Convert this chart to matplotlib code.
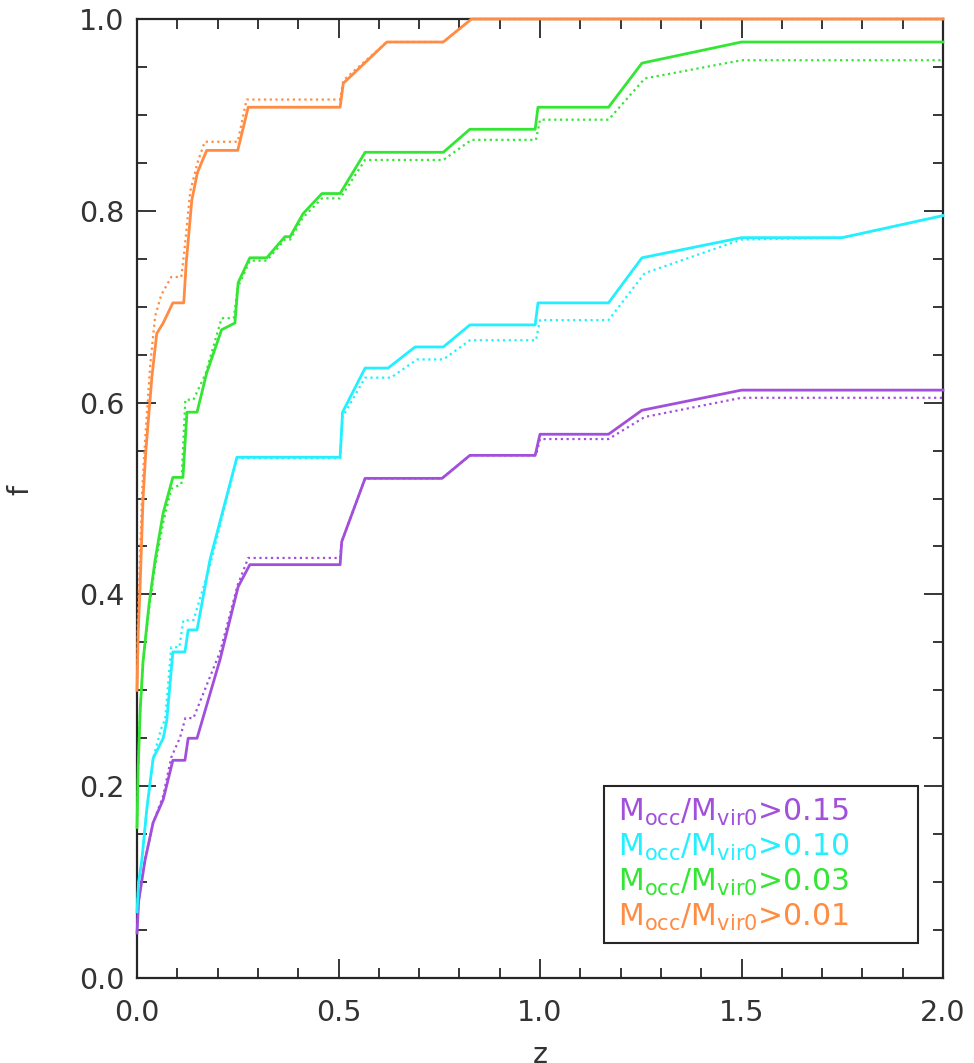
import numpy as np
import matplotlib
matplotlib.use('Agg')
import matplotlib.pyplot as plt
from matplotlib.ticker import MultipleLocator
from matplotlib.patches import Rectangle

plt.rcParams['font.family'] = ['DejaVu Sans']
plt.rcParams['mathtext.fontset'] = 'dejavusans'

# M_acc/M_vir0 > 0.01
z_o = [0, 0.003, 0.007, 0.015, 0.022, 0.037, 0.049, 0.065, 0.089, 0.116, 0.122, 0.136, 0.150, 0.173,
       0.25, 0.276, 0.504, 0.512, 0.62, 0.76, 0.83, 2.0]
f_o = [0.30, 0.36, 0.40, 0.50, 0.55, 0.627, 0.672, 0.683, 0.704, 0.704, 0.745, 0.811, 0.840, 0.863,
       0.863, 0.908, 0.908, 0.933, 0.976, 0.976, 1.0, 1.0]
z_o2 = [0, 0.002, 0.006, 0.013, 0.02, 0.033, 0.045, 0.060, 0.085, 0.110, 0.118, 0.132, 0.150, 0.168,
        0.25, 0.272, 0.504, 0.512, 0.62, 0.76, 0.83, 2.0]
f_o2 = [0.30, 0.37, 0.42, 0.51, 0.56, 0.64, 0.69, 0.712, 0.731, 0.731, 0.76, 0.82, 0.85, 0.872,
        0.872, 0.916, 0.916, 0.936, 0.976, 0.976, 1.0, 1.0]

# M_acc/M_vir0 > 0.03
z_g = [0, 0.003, 0.008, 0.015, 0.03, 0.045, 0.065, 0.089, 0.114, 0.124, 0.149, 0.173, 0.21, 0.243,
       0.251, 0.28, 0.322, 0.367, 0.38, 0.412, 0.459, 0.504, 0.566, 0.76, 0.826, 0.988, 0.995, 1.17,
       1.253, 1.5, 2.0]
f_g = [0.157, 0.22, 0.28, 0.33, 0.39, 0.436, 0.485, 0.522, 0.522, 0.590, 0.590, 0.631, 0.676, 0.683,
       0.725, 0.751, 0.751, 0.773, 0.773, 0.797, 0.818, 0.818, 0.861, 0.861, 0.885, 0.885, 0.908, 0.908,
       0.954, 0.976, 0.976]
z_g2 = [0, 0.003, 0.008, 0.015, 0.03, 0.045, 0.065, 0.085, 0.11, 0.12, 0.14, 0.17, 0.21, 0.24,
        0.25, 0.28, 0.322, 0.367, 0.38, 0.412, 0.459, 0.504, 0.566, 0.76, 0.83, 0.99, 1.0, 1.17,
        1.26, 1.5, 2.0]
f_g2 = [0.157, 0.22, 0.28, 0.33, 0.385, 0.43, 0.475, 0.51, 0.515, 0.603, 0.603, 0.63, 0.688, 0.688,
        0.72, 0.748, 0.748, 0.77, 0.77, 0.793, 0.813, 0.813, 0.853, 0.853, 0.874, 0.874, 0.895, 0.895,
        0.938, 0.957, 0.957]

# M_acc/M_vir0 > 0.10
z_c = [0, 0.004, 0.012, 0.024, 0.04, 0.065, 0.074, 0.089, 0.119, 0.127, 0.149, 0.181, 0.248, 0.504,
       0.51, 0.566, 0.623, 0.69, 0.76, 0.826, 0.988, 0.995, 1.17, 1.253, 1.5, 1.75, 2.0]
f_c = [0.069, 0.10, 0.123, 0.175, 0.229, 0.250, 0.269, 0.340, 0.340, 0.363, 0.363, 0.436, 0.543, 0.543,
       0.590, 0.636, 0.636, 0.658, 0.658, 0.681, 0.681, 0.704, 0.704, 0.751, 0.772, 0.772, 0.795]
z_c2 = [0, 0.004, 0.012, 0.024, 0.04, 0.06, 0.07, 0.085, 0.105, 0.115, 0.14, 0.181, 0.248, 0.504,
        0.51, 0.566, 0.63, 0.695, 0.76, 0.826, 0.99, 1.0, 1.17, 1.26, 1.5, 1.75, 2.0]
f_c2 = [0.069, 0.10, 0.123, 0.175, 0.229, 0.26, 0.27, 0.345, 0.345, 0.373, 0.373, 0.43, 0.542, 0.542,
        0.585, 0.626, 0.626, 0.645, 0.645, 0.665, 0.665, 0.686, 0.686, 0.735, 0.77, 0.772, 0.795]

# M_acc/M_vir0 > 0.15
z_p = [0, 0.004, 0.02, 0.04, 0.065, 0.089, 0.119, 0.127, 0.149, 0.206, 0.251, 0.28, 0.504, 0.508,
       0.566, 0.757, 0.826, 0.988, 1.0, 1.17, 1.253, 1.5, 2.0]
f_p = [0.047, 0.08, 0.123, 0.162, 0.186, 0.227, 0.227, 0.250, 0.250, 0.332, 0.408, 0.431, 0.431, 0.455,
       0.521, 0.521, 0.545, 0.545, 0.567, 0.567, 0.592, 0.613, 0.613]
z_p2 = [0, 0.004, 0.02, 0.04, 0.065, 0.085, 0.107, 0.12, 0.14, 0.206, 0.25, 0.276, 0.504, 0.508,
        0.566, 0.757, 0.826, 0.99, 1.0, 1.17, 1.26, 1.5, 2.0]
f_p2 = [0.047, 0.08, 0.123, 0.162, 0.19, 0.23, 0.251, 0.271, 0.271, 0.34, 0.41, 0.438, 0.438, 0.455,
        0.521, 0.521, 0.545, 0.545, 0.562, 0.562, 0.585, 0.605, 0.605]

labels = ['0.15', '0.10', '0.03', '0.01']
colors = ['#a24fdc', '#22f0ff', '#33e633', '#ff8c42']

fig = plt.figure(figsize=(9.74, 10.63), dpi=100)
ax = fig.add_axes([137/974, 85/1063, 806/974, 959/1063])

solid = [(z_p, f_p), (z_c, f_c), (z_g, f_g), (z_o, f_o)]
dotted = [(z_p2, f_p2), (z_c2, f_c2), (z_g2, f_g2), (z_o2, f_o2)]
for (zs, fs), (zd, fd), c in zip(solid, dotted, colors):
    ax.plot(zd, fd, color=c, lw=1.6, ls=(0, (1, 1.6)), zorder=3, clip_on=False)
    ax.plot(zs, fs, color=c, lw=2.0, zorder=4, clip_on=False)

ax.set_xlim(0, 2.0)
ax.set_ylim(0, 1.0)
ax.xaxis.set_major_locator(MultipleLocator(0.5))
ax.xaxis.set_minor_locator(MultipleLocator(0.1))
ax.yaxis.set_major_locator(MultipleLocator(0.2))
ax.yaxis.set_minor_locator(MultipleLocator(0.05))
ax.xaxis.set_major_formatter(lambda v, p: '%.1f' % v)
ax.yaxis.set_major_formatter(lambda v, p: '%.1f' % v)

tc = '#262626'
ax.tick_params(which='both', direction='in', top=True, right=True, color=tc,
               labelcolor='#333333', labelsize=20.5)
ax.tick_params(which='major', length=14, width=1.3)
ax.tick_params(which='minor', length=7, width=1.3)
ax.tick_params(axis='x', pad=15)
ax.tick_params(axis='y', pad=9)
for s in ax.spines.values():
    s.set_linewidth(1.6)
    s.set_color(tc)

ax.set_xlabel('z', fontsize=20.5, color='#333333')
ax.xaxis.set_label_coords(0.5, -0.08)
ax.xaxis.label.set_va('center')
ax.set_ylabel('f', fontsize=20.5, color='#333333')
ax.yaxis.set_label_coords(-0.127, 0.509)

# legend box with coloured text
ax.add_patch(Rectangle((0.579, 0.0365), 0.39, 0.1635, transform=ax.transAxes,
                       fill=False, edgecolor=tc, lw=1.5, zorder=5))
ys = [0.173, 0.136, 0.100, 0.063]
for lab, c, y in zip(labels, colors, ys):
    ax.text(0.597, y, r'M$_{\mathrm{occ}}$/M$_{\mathrm{vir0}}$>' + lab, transform=ax.transAxes,
            color=c, fontsize=21.5, va='center', ha='left', zorder=6)

fig.savefig('out.png', dpi=100)
